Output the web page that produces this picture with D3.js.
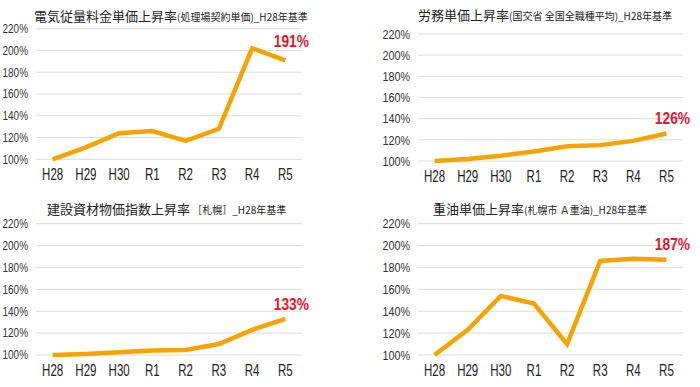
<!DOCTYPE html>
<html>
<head>
<meta charset="utf-8">
<script src="https://cdn.jsdelivr.net/npm/d3@7"></script>
<style>
  body { margin: 0; background: #fff; }
  .num { font-family: "Liberation Sans", Arial, sans-serif; }
  .jp { font-family: "Noto Sans CJK JP", sans-serif; }
</style>
</head>
<body>
<div class="canvas"></div>
<script>
// data
const years = ['H28', 'H29', 'H30', 'R1', 'R2', 'R3', 'R4', 'R5']
const yTicks = [100, 120, 140, 160, 180, 200, 220]

const denki = [100, 111, 124, 126, 117, 128, 202, 191]
const roumu = [100, 102, 105, 109, 114, 115, 119, 126]
const kenzai = [100, 101, 102.5, 104, 104.5, 110, 123, 133]
const juyu = [100, 123, 154, 147, 110, 186, 188, 187]

const titles = ['電気従量料金単価上昇率', '労務単価上昇率', '建設資材物価指数上昇率', '重油単価上昇率']
const subtitles = ['(処理場契約単価)_H28年基準', '(国交省 全国全職種平均)_H28年基準', ' ［札幌］_H28年基準', '(札幌市 Ａ重油)_H28年基準']
const endLabels = ['191%', '126%', '133%', '187%']

// panel boxes (plot area)
const panels = [
    {left: 36, right: 302, top: 28.7, bottom: 159.3, titleX: 34, titleY: 21, tick: 12, lift: 13},
    {left: 418, right: 683, top: 34, bottom: 161, titleX: 418, titleY: 20, tick: 13, lift: 9},
    {left: 36, right: 302, top: 223.7, bottom: 355, titleX: 47, titleY: 214, tick: 12, lift: 9},
    {left: 418, right: 683, top: 223.7, bottom: 355, titleX: 433, titleY: 214, tick: 13, lift: 10}
]
const series = [denki, roumu, kenzai, juyu]

const svg = d3.select('.canvas')
    .append('svg')
    .attr('width', 700)
    .attr('height', 387)

const lineColour = '#f5a300'
const red = '#e3142b'

// condensed look: squeeze text horizontally around its anchor
const squeeze = (sx) => (d, i, nodes) => {
    const n = d3.select(nodes[i])
    return `translate(${n.attr('data-x')},${n.attr('data-y')}) scale(${sx},1)`
}

panels.forEach((p, i) => {
    const g = svg.append('g')

    const x = d3.scalePoint()
        .domain(years)
        .range([p.left, p.right])
        .padding(0.5)

    const y = d3.scaleLinear()
        .domain([100, 220])
        .range([p.bottom, p.top])

    // gridlines
    g.selectAll('line.grid')
        .data(yTicks)
        .enter().append('line')
            .attr('class', 'grid')
            .attr('x1', p.left)
            .attr('x2', p.right)
            .attr('y1', d => y(d))
            .attr('y2', d => y(d))
            .attr('stroke', '#dcdcdc')
            .attr('stroke-width', 1)

    // y labels
    g.selectAll('text.ytick')
        .data(yTicks)
        .enter().append('text')
            .attr('class', 'ytick num')
            .attr('data-x', p.left - 8)
            .attr('data-y', d => y(d))
            .attr('transform', squeeze(0.83))
            .attr('dy', '0.36em')
            .attr('text-anchor', 'end')
            .attr('font-size', p.tick)
            .attr('fill', '#333')
            .text(d => d + '%')

    // x labels
    g.selectAll('text.xtick')
        .data(years)
        .enter().append('text')
            .attr('class', 'xtick num')
            .attr('data-x', d => x(d))
            .attr('data-y', p.bottom + 21)
            .attr('transform', squeeze(0.72))
            .attr('text-anchor', 'middle')
            .attr('font-size', 16)
            .attr('fill', '#222')
            .text(d => d)

    // line
    const line = d3.line()
        .x((d, j) => x(years[j]))
        .y(d => y(d))

    g.append('path')
        .datum(series[i])
        .attr('d', line)
        .attr('fill', 'none')
        .attr('stroke', lineColour)
        .attr('stroke-width', 4.5)
        .attr('stroke-linejoin', 'miter')

    // end value label
    const last = series[i][series[i].length - 1]
    g.append('text')
        .datum(last)
        .attr('class', 'num')
        .attr('data-x', x(years[years.length - 1]) + 6)
        .attr('data-y', y(last) - p.lift)
        .attr('transform', squeeze(0.86))
        .attr('text-anchor', 'middle')
        .attr('font-size', 16)
        .attr('font-weight', 'bold')
        .attr('fill', red)
        .text(endLabels[i])

    // title
    const t = g.append('text')
        .attr('class', 'jp')
        .attr('x', p.titleX)
        .attr('y', p.titleY)
        .attr('fill', '#222')
    t.append('tspan')
        .attr('font-size', 13)
        .text(titles[i])
    t.append('tspan')
        .attr('font-size', 10)
        .text(subtitles[i])
})
</script>
</body>
</html>
